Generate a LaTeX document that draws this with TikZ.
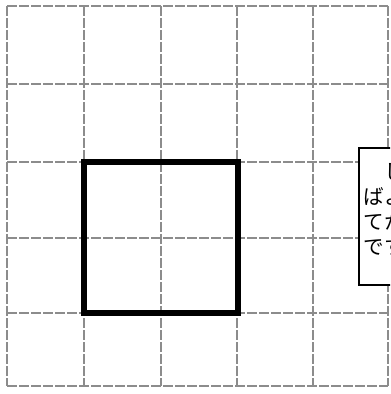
\documentclass[tikz,border=0pt]{standalone}
\usepackage{fontspec}
\newfontfamily\jpfont{Noto Sans CJK JP}
\tikzset{
  grid-line/.style={draw=black!45, line width=1.1pt, dash pattern=on 5pt off 1pt},
  grid-square/.style={draw=black, line width=2.6pt},
  grid-note/.style={draw=black, fill=white, line width=0.8pt},
  grid-text/.style={font=\jpfont\fontsize{10.3pt}{12.5pt}\selectfont, align=left,
    anchor=north west, inner sep=0pt}
}
\begin{document}
\begin{tikzpicture}[x=0.5pt, y=-0.5pt]
  \useasboundingbox (0,0) rectangle (390,394);
  \clip (0,0) rectangle (390,394);
  \fill[white] (0,0) rectangle (390,394);
  \foreach \x in {7,84,161,237,313,388} {
    \draw[grid-line] (\x,6) -- (\x,386);
  }
  \foreach \y in {6,84,162,238,313,386} {
    \draw[grid-line] (7,\y) -- (388,\y);
  }
  \draw[grid-square] (84,162) rectangle (238,313);
  \draw[grid-note] (359,148) rectangle (430,285);
  \node[grid-text] (note) at (363,163) {　しきつめれ\\ばよいので、\\てから考える\\です。};
\end{tikzpicture}
\end{document}
